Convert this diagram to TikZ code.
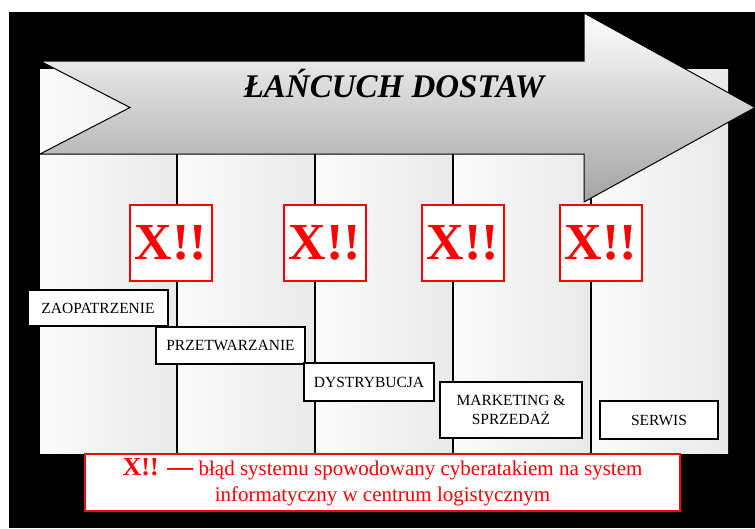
\documentclass[tikz,border=0pt]{standalone}
\usepackage{fontspec}
\setmainfont{Liberation Serif}
\usetikzlibrary{positioning}

\begin{document}
\begin{tikzpicture}[x=1pt, y=-1pt, % pixel-like units, y downwards
    stagebox/.style={draw=black, line width=1.6pt, fill=white, inner sep=0pt, align=center,
        font=\fontsize{15.5}{19}\selectfont},
    alertbox/.style={draw=red, line width=1.5pt, fill=white, inner sep=0pt,
        minimum width=82pt, minimum height=76pt, text=red,
        font=\fontsize{52}{52}\selectfont\bfseries}]
    \useasboundingbox (0,0) rectangle (755,528);

    % Background
    \fill[black] (9,12) rectangle (755,528);

    % Columns of the panel
    \foreach \xa/\xb in {40/177, 177/315, 315/453, 453/591, 591/728} {
        \shade[left color=gray!3, right color=gray!17] (\xa,69) rectangle (\xb,453);
    }
    \foreach \x in {177, 315, 453, 591} {
        \draw[line width=1.6pt] (\x,154) -- (\x,453);
    }

    % Big arrow
    \shadedraw[top color=white, bottom color=gray!72, draw=black, line width=1pt]
        (40,61) -- (584,61) -- (584,13) -- (755,107.5) -- (584,202) -- (584,154)
        -- (40,154) -- (130,107.5) -- cycle;
    \node[anchor=base, font=\fontsize{33}{33}\selectfont\bfseries\itshape] (title) at (394,97) {ŁAŃCUCH DOSTAW};

    % Alerts
    \foreach \x/\n in {171/a, 325/b, 463/c, 601/d} {
        \node[alertbox] (alert\n) at (\x,243) {X!!};
    }

    % Stages
    \node[stagebox, minimum width=140pt, minimum height=36pt] (supply) at (98,308) {ZAOPATRZENIE};
    \node[stagebox, minimum width=149pt, minimum height=37pt] (process) at (230.5,345.5) {PRZETWARZANIE};
    \node[stagebox, minimum width=130pt, minimum height=38pt] (distrib) at (369,382) {DYSTRYBUCJA};
    \node[stagebox, minimum width=142pt, minimum height=56pt] (sales) at (511,410) {MARKETING \&\\SPRZEDAŻ};
    \node[stagebox, minimum width=118pt, minimum height=38pt] (service) at (659,420) {SERWIS};

    % Legend
    \node[draw=red, line width=1.8pt, fill=white, text=red, align=center, inner sep=0pt,
        minimum width=595pt, minimum height=57pt, font=\fontsize{21}{26}\selectfont] (legend) at (382.5,482.5)
        {{\fontsize{26}{26}\selectfont\bfseries X!! —} błąd systemu spowodowany cyberatakiem na system\\
        informatyczny w centrum logistycznym};
\end{tikzpicture}
\end{document}
